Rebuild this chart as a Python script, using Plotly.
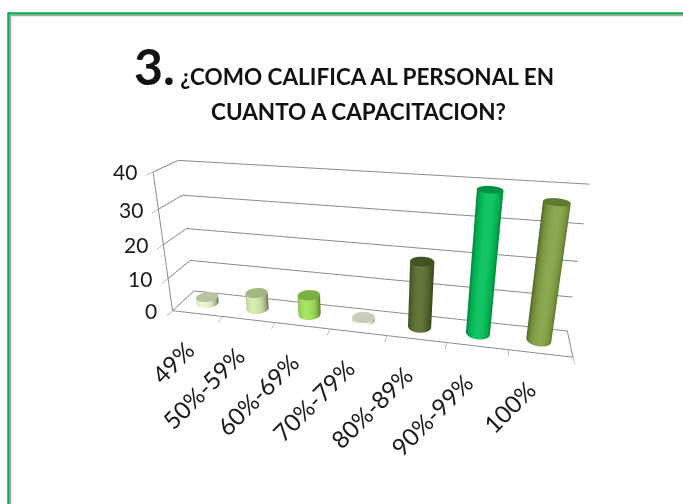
import numpy as np
import plotly.graph_objects as go

categories = ["49%", "50%-59%", "60%-69%", "70%-79%", "80%-89%", "90%-99%", "100%"]
values = [2, 5, 6, 1, 19, 39, 37]
colors = ["#D7E4BD", "#C3D69B", "#92D050", "#EBF1DE", "#4F6228", "#00B050", "#77933C"]
z_ticks = [0, 10, 20, 30, 40]

AX, AY, AZ = 2.75, 0.32, 1.03
XR = [-0.5, len(categories) - 0.5]
YR = [0.0, 1.0]
ZR = [0, 40]
rx = 0.2
rho = rx * AX / (XR[1] - XR[0])
ry = rho * (YR[1] - YR[0]) / AY


def cylinder(i, h, color, n=60):
    t = np.linspace(0, 2 * np.pi, n, endpoint=False)
    cx, cy = i, 0.5
    ringx = cx + rx * np.cos(t)
    ringy = cy + ry * np.sin(t)
    xs = np.concatenate([ringx, ringx, ringx, [cx]])
    ys = np.concatenate([ringy, ringy, ringy, [cy]])
    zs = np.concatenate([np.zeros(n), np.full(n, float(h)), np.full(n, float(h)), [h]])
    I, J, K = [], [], []
    for k in range(n):
        k2 = (k + 1) % n
        I += [k, k2]
        J += [k2, n + k2]
        K += [n + k, n + k]
        I.append(2 * n + k)
        J.append(2 * n + k2)
        K.append(3 * n)
    return go.Mesh3d(
        x=xs, y=ys, z=zs, i=I, j=J, k=K, color=color, flatshading=False,
        lighting=dict(ambient=0.6, diffuse=0.6, specular=0.35, roughness=0.5, fresnel=0.1),
        lightposition=dict(x=-500, y=-3000, z=2000),
        hoverinfo="skip", showscale=False,
    )


fig = go.Figure()
for i, (v, c) in enumerate(zip(values, colors)):
    fig.add_trace(cylinder(i, v, c))

FONT = "Lato, Open Sans, sans-serif"
label_font = dict(family=FONT, size=24, color="#1a1a1a")
scene_ann = [
    dict(x=i, y=0, z=0, text=cat, textangle=-45, showarrow=False,
         xanchor="right", yanchor="top", xshift=4, yshift=-19, font=label_font)
    for i, cat in enumerate(categories)
]
scene_ann += [
    dict(x=XR[0], y=0, z=v, text=str(v), showarrow=False,
         xanchor="right", yanchor="middle", xshift=-14, yshift=0,
         font=dict(family=FONT, size=21, color="#1a1a1a"))
    for v in z_ticks
]

grid_c = "#8a8a8a"
fig.update_layout(
    width=683, height=504,
    margin=dict(l=0, r=0, t=0, b=0),
    paper_bgcolor="white",
    showlegend=False,
    scene=dict(
        domain=dict(x=[0.065, 1.0], y=[0.064, 1.0]),
        aspectmode="manual",
        aspectratio=dict(x=AX, y=AY, z=AZ),
        xaxis=dict(range=XR, tickvals=[k - 0.5 for k in range(len(categories) + 1)],
                   showticklabels=False, ticks="outside", ticklen=8, tickcolor=grid_c,
                   showgrid=False, showline=True, linecolor=grid_c, linewidth=2,
                   zeroline=False, showbackground=False, title=dict(text=""),
                   showspikes=False),
        yaxis=dict(range=YR, showticklabels=False, showgrid=False, showline=True,
                   linecolor=grid_c, linewidth=2, zeroline=False, showbackground=False,
                   title=dict(text=""), ticks="", showspikes=False),
        zaxis=dict(range=ZR, tickvals=z_ticks, showticklabels=False, ticks="outside",
                   ticklen=10, tickcolor=grid_c,
                   showgrid=True, gridcolor=grid_c, gridwidth=2, showline=True,
                   linecolor=grid_c, linewidth=2, zeroline=False, showbackground=False,
                   title=dict(text=""), showspikes=False),
        camera=dict(eye=dict(x=0.75, y=-3.4, z=1.5), center=dict(x=0, y=0, z=0.12),
                    up=dict(x=0, y=0, z=1), projection=dict(type="perspective")),
        annotations=scene_ann,
    ),
    annotations=[
        dict(x=0.504, y=1 - 66 / 504, xref="paper", yref="paper", showarrow=False,
             xanchor="center", yanchor="middle",
             text="<b><span style='font-size:50px'>3.</span> ¿COMO CALIFICA AL PERSONAL EN</b>",
             font=dict(family=FONT, size=22.5, color="#111111")),
        dict(x=358 / 683, y=1 - 111 / 504, xref="paper", yref="paper", showarrow=False,
             xanchor="center", yanchor="middle",
             text="<b>CUANTO A CAPACITACION?</b>",
             font=dict(family=FONT, size=22.5, color="#111111")),
    ],
    shapes=[
        dict(type="line", xref="paper", yref="paper", x0=8 / 683, x1=1, y0=1 - 13.5 / 504, y1=1 - 13.5 / 504,
             line=dict(color="#00B050", width=2.5)),
        dict(type="line", xref="paper", yref="paper", x0=8.5 / 683, x1=8.5 / 683, y0=0, y1=1 - 12.5 / 504,
             line=dict(color="#00B050", width=2.5)),
        dict(type="line", xref="paper", yref="paper", x0=10 / 683, x1=1, y0=1 - 15.5 / 504, y1=1 - 15.5 / 504,
             line=dict(color="#A6A6A6", width=1.5)),
        dict(type="line", xref="paper", yref="paper", x0=10.5 / 683, x1=10.5 / 683, y0=0, y1=1 - 15 / 504,
             line=dict(color="#A6A6A6", width=1.5)),
    ],
)

fig.write_html("out.html")
